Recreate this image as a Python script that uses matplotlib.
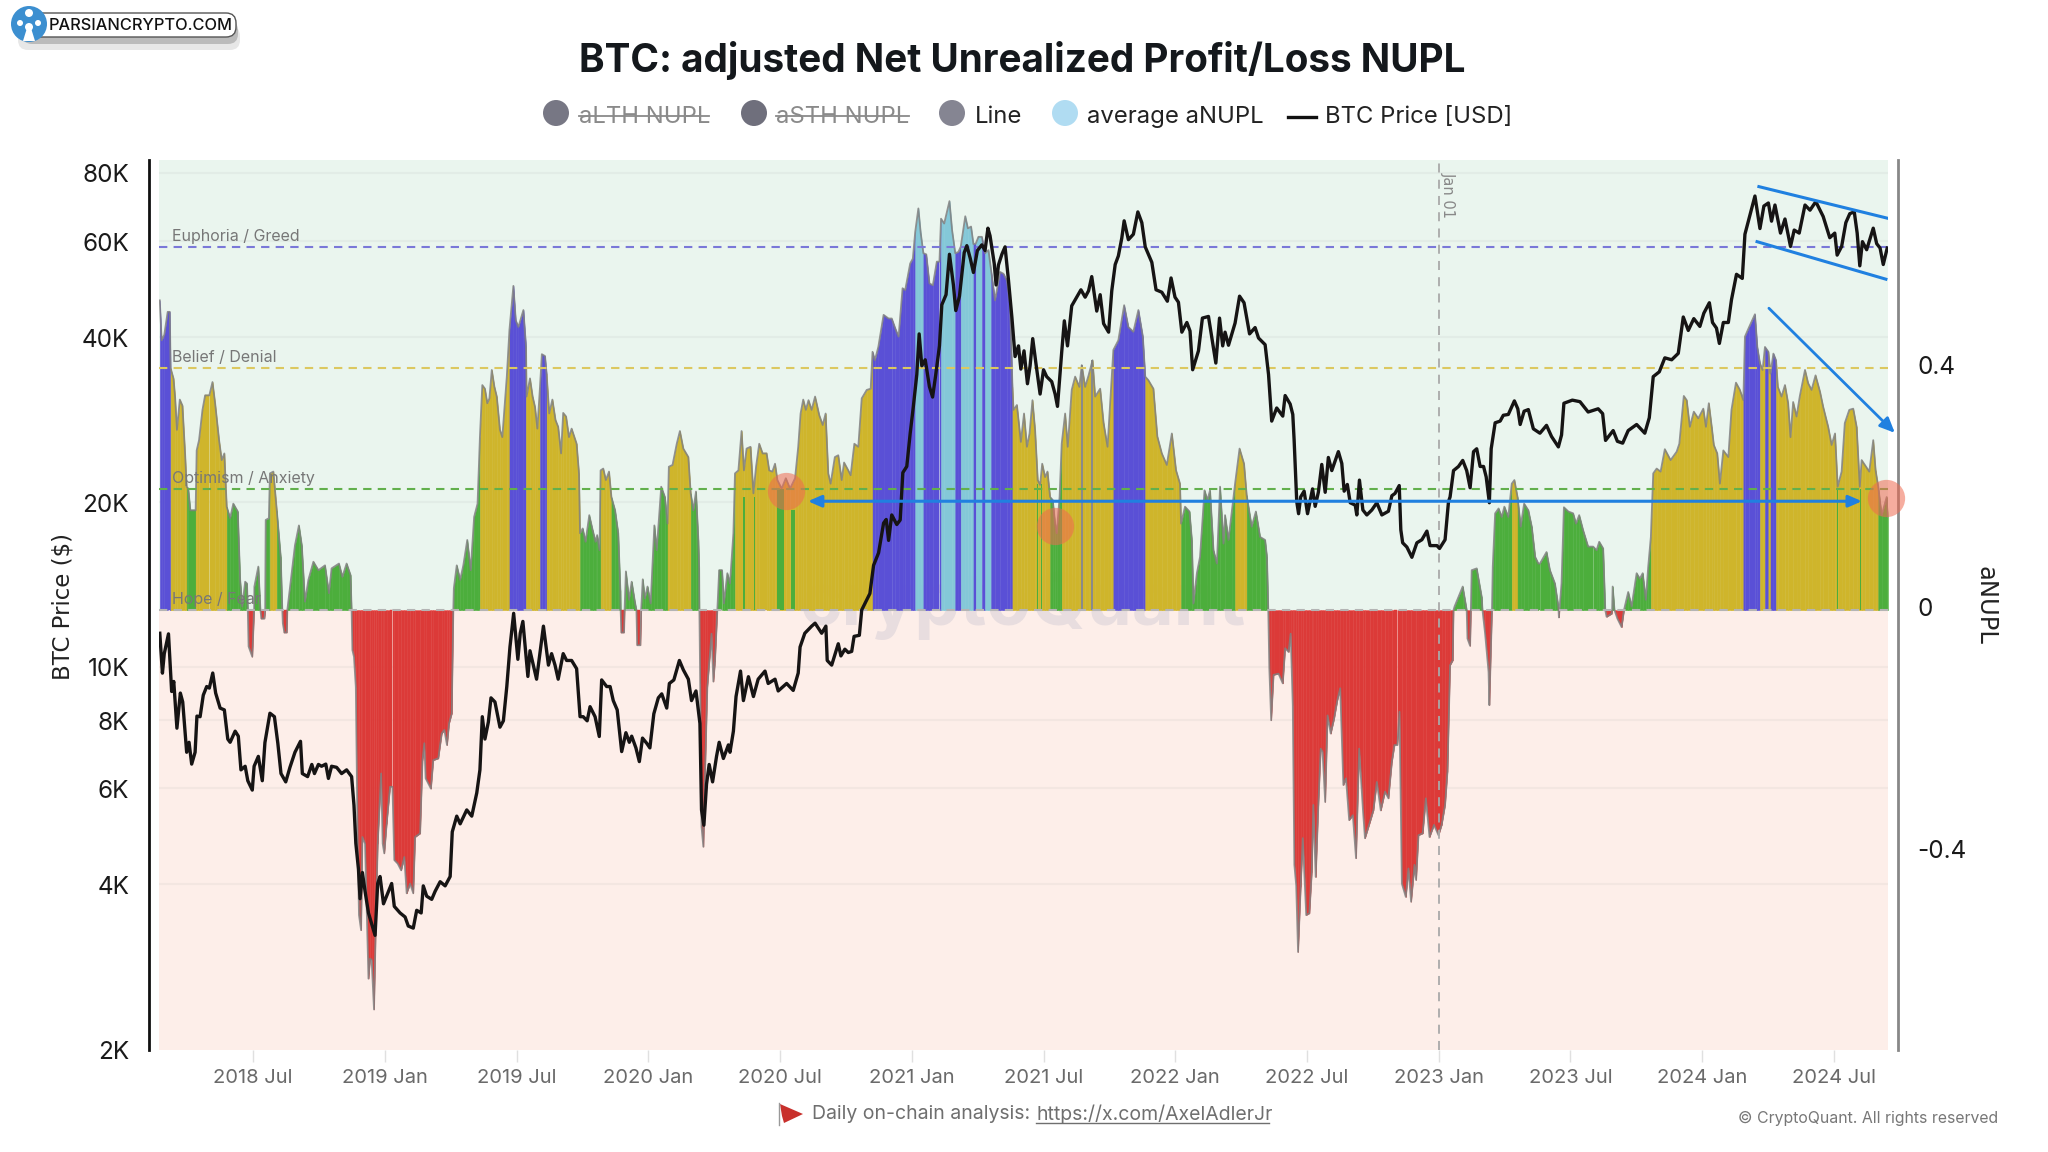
import numpy as np
import matplotlib
matplotlib.use('Agg')
import matplotlib.pyplot as plt
from matplotlib.patches import Circle, FancyBboxPatch, Polygon
from matplotlib.transforms import ScaledTranslation

plt.rcParams['font.family'] = ['Inter', 'DejaVu Sans']

# aNUPL: (decimal year, value)
anupl_pts = [
    (2018.146, .512), (2018.153, .446), (2018.163, .455), (2018.176, .493), (2018.184, .493), (2018.187, .40),
    (2018.198, .383), (2018.204, .353), (2018.211, .298), (2018.222, .348), (2018.232, .338), (2018.242, .259),
    (2018.248, .204), (2018.254, .201), (2018.262, .165), (2018.275, .165), (2018.282, .165), (2018.286, .264),
    (2018.295, .281), (2018.308, .331), (2018.318, .355), (2018.334, .355), (2018.346, .377), (2018.356, .342),
    (2018.371, .281), (2018.381, .248), (2018.391, .259), (2018.400, .171), (2018.413, .152), (2018.425, .176),
    (2018.442, .163), (2018.451, .050), (2018.459, .006), (2018.470, .047), (2018.477, .044), (2018.480, 0),
    (2018.483, -.060), (2018.497, -.077), (2018.504, 0), (2018.505, .039), (2018.520, .072), (2018.528, 0),
    (2018.532, -.014), (2018.543, -.014), (2018.546, 0), (2018.548, .149), (2018.560, .152), (2018.564, .226),
    (2018.577, .229), (2018.590, .165), (2018.605, .088), (2018.611, 0), (2018.613, -.022), (2018.619, -.037),
    (2018.628, -.037), (2018.630, 0), (2018.647, .063), (2018.659, .107), (2018.674, .140), (2018.685, .107),
    (2018.697, .014), (2018.710, .050), (2018.729, .080), (2018.748, .066), (2018.773, .074), (2018.788, .028),
    (2018.798, .069), (2018.826, .077), (2018.839, .055), (2018.855, .077), (2018.870, .058), (2018.874, 0),
    (2018.877, -.066), (2018.883, -.077), (2018.890, -.127), (2018.897, -.386), (2018.902, -.504), (2018.910, -.529),
    (2018.915, -.375), (2018.925, -.386), (2018.938, -.609), (2018.944, -.576), (2018.950, -.578), (2018.959, -.660),
    (2018.967, -.496), (2018.973, -.386), (2018.986, -.270), (2018.992, -.386), (2018.998, -.402), (2019.007, -.353),
    (2019.020, -.292), (2019.029, -.292), (2019.036, -.413), (2019.049, -.419), (2019.062, -.430), (2019.074, -.408),
    (2019.083, -.468), (2019.096, -.452), (2019.108, -.468), (2019.115, -.375), (2019.134, -.369), (2019.143, -.248),
    (2019.150, -.220), (2019.155, -.278), (2019.175, -.295), (2019.184, -.248), (2019.203, -.245), (2019.216, -.204),
    (2019.226, -.198), (2019.236, -.223), (2019.244, -.187), (2019.254, -.171), (2019.260, 0), (2019.262, .036),
    (2019.273, .074), (2019.286, .050), (2019.298, .074), (2019.313, .116), (2019.326, .066), (2019.339, .154),
    (2019.352, .176), (2019.361, .286), (2019.370, .372), (2019.380, .366), (2019.389, .342), (2019.397, .350),
    (2019.406, .397), (2019.416, .369), (2019.425, .353), (2019.437, .298), (2019.446, .286), (2019.463, .386),
    (2019.473, .463), (2019.488, .536), (2019.497, .479), (2019.507, .468), (2019.526, .496), (2019.536, .435),
    (2019.538, .353), (2019.551, .383), (2019.561, .353), (2019.570, .336), (2019.579, .300), (2019.589, .369),
    (2019.596, .423), (2019.608, .420), (2019.614, .391), (2019.624, .325), (2019.636, .348), (2019.648, .314),
    (2019.658, .303), (2019.669, .259), (2019.677, .326), (2019.688, .320), (2019.699, .286), (2019.709, .300),
    (2019.728, .275), (2019.737, .226), (2019.741, .127), (2019.751, .135), (2019.762, .113), (2019.776, .157),
    (2019.789, .132), (2019.800, .113), (2019.806, .124), (2019.815, .099), (2019.819, .231), (2019.829, .234),
    (2019.839, .215), (2019.851, .229), (2019.860, .187), (2019.874, .165), (2019.886, .127), (2019.894, .033),
    (2019.895, 0), (2019.898, -.037), (2019.908, -.037), (2019.910, 0), (2019.915, .064), (2019.927, .017),
    (2019.937, .047), (2019.949, .014), (2019.955, 0), (2019.958, -.058), (2019.970, -.058), (2019.973, 0),
    (2019.979, .051), (2019.987, .019), (2019.997, .039), (2020.009, .011), (2020.023, .140), (2020.032, .099),
    (2020.049, .204), (2020.063, .187), (2020.073, .143), (2020.078, .237), (2020.092, .240), (2020.108, .275),
    (2020.120, .296), (2020.133, .267), (2020.152, .253), (2020.161, .193), (2020.171, .165), (2020.181, .196),
    (2020.190, .116), (2020.193, .07), (2020.194, 0), (2020.197, -.121), (2020.202, -.358), (2020.209, -.391),
    (2020.215, -.275), (2020.224, -.127), (2020.240, -.039), (2020.247, -.118), (2020.253, -.085), (2020.262, 0),
    (2020.269, .066), (2020.280, .066), (2020.287, .011), (2020.300, .061), (2020.310, .044), (2020.323, .127),
    (2020.329, .226), (2020.342, .231), (2020.354, .296), (2020.363, .231), (2020.373, .267), (2020.388, .270),
    (2020.399, .193), (2020.409, .237), (2020.421, .275), (2020.434, .259), (2020.449, .259), (2020.459, .231),
    (2020.471, .229), (2020.481, .242), (2020.490, .215), (2020.506, .201), (2020.522, .218), (2020.538, .201),
    (2020.557, .218), (2020.569, .270), (2020.578, .325), (2020.588, .348), (2020.598, .331), (2020.608, .347),
    (2020.620, .331), (2020.633, .353), (2020.649, .322), (2020.662, .306), (2020.673, .325), (2020.683, .226),
    (2020.692, .209), (2020.708, .253), (2020.721, .256), (2020.734, .215), (2020.743, .244), (2020.759, .231),
    (2020.768, .223), (2020.782, .275), (2020.797, .270), (2020.810, .350), (2020.829, .364), (2020.844, .366),
    (2020.851, .427), (2020.860, .413), (2020.873, .435), (2020.893, .488), (2020.912, .482), (2020.924, .482),
    (2020.937, .466), (2020.950, .452), (2020.965, .532), (2020.975, .529), (2020.994, .573), (2021.004, .581),
    (2021.013, .625), (2021.025, .664), (2021.034, .623), (2021.044, .590), (2021.055, .588), (2021.067, .540),
    (2021.080, .537), (2021.095, .576), (2021.105, .576), (2021.111, .647), (2021.123, .639), (2021.143, .676),
    (2021.153, .628), (2021.165, .590), (2021.177, .592), (2021.186, .601), (2021.203, .651), (2021.213, .631),
    (2021.225, .634), (2021.234, .605), (2021.243, .606), (2021.253, .617), (2021.266, .617), (2021.278, .590),
    (2021.291, .595), (2021.301, .562), (2021.316, .512), (2021.335, .559), (2021.348, .556), (2021.361, .545),
    (2021.373, .507), (2021.382, .369), (2021.386, .331), (2021.399, .339), (2021.414, .278), (2021.426, .325),
    (2021.437, .270), (2021.447, .292), (2021.458, .347), (2021.468, .298), (2021.478, .215), (2021.487, .207),
    (2021.495, .242), (2021.506, .220), (2021.515, .229), (2021.525, .187), (2021.535, .182), (2021.544, .143),
    (2021.550, .127), (2021.561, .187), (2021.569, .275), (2021.582, .325), (2021.592, .270), (2021.607, .364),
    (2021.620, .386), (2021.636, .369), (2021.645, .405), (2021.658, .369), (2021.671, .388), (2021.686, .413),
    (2021.696, .353), (2021.715, .366), (2021.728, .309), (2021.743, .270), (2021.755, .358), (2021.765, .430),
    (2021.784, .446), (2021.806, .504), (2021.822, .468), (2021.841, .460), (2021.860, .496), (2021.877, .452),
    (2021.886, .386), (2021.898, .380), (2021.917, .366), (2021.932, .287), (2021.949, .259), (2021.968, .240),
    (2021.987, .292), (2022.003, .231), (2022.018, .209), (2022.022, .143), (2022.037, .171), (2022.054, .163),
    (2022.063, .116), (2022.069, .011), (2022.082, .061), (2022.094, .088), (2022.111, .198), (2022.122, .182),
    (2022.132, .198), (2022.145, .099), (2022.158, .077), (2022.170, .204), (2022.183, .110), (2022.189, .157),
    (2022.202, .116), (2022.214, .160), (2022.227, .209), (2022.244, .267), (2022.261, .242), (2022.271, .190),
    (2022.290, .138), (2022.306, .163), (2022.322, .121), (2022.341, .116), (2022.348, .088), (2022.353, 0),
    (2022.357, -.096), (2022.364, -.182), (2022.373, -.107), (2022.392, -.105), (2022.408, -.121), (2022.417, -.063),
    (2022.430, -.069), (2022.438, -.039), (2022.446, -.157), (2022.452, -.421), (2022.459, -.455), (2022.466, -.565),
    (2022.476, -.457), (2022.484, -.377), (2022.497, -.504), (2022.509, -.501), (2022.518, -.433), (2022.524, -.322),
    (2022.533, -.441), (2022.543, -.322), (2022.552, -.229), (2022.559, -.234), (2022.569, -.317), (2022.578, -.174),
    (2022.590, -.204), (2022.603, -.179), (2022.615, -.149), (2022.626, -.129), (2022.638, -.289), (2022.648, -.278),
    (2022.660, -.347), (2022.674, -.339), (2022.686, -.410), (2022.698, -.229), (2022.712, -.328), (2022.720, -.377),
    (2022.739, -.350), (2022.752, -.331), (2022.765, -.284), (2022.780, -.331), (2022.796, -.300), (2022.809, -.311),
    (2022.822, -.251), (2022.832, -.223), (2022.843, -.223), (2022.851, -.168), (2022.860, -.452), (2022.875, -.474),
    (2022.885, -.427), (2022.895, -.482), (2022.908, -.421), (2022.914, -.446), (2022.923, -.372), (2022.939, -.369),
    (2022.951, -.311), (2022.965, -.375), (2022.982, -.355), (2022.999, -.372), (2023.011, -.355), (2023.024, -.322),
    (2023.033, -.267), (2023.043, -.091), (2023.053, -.083), (2023.056, 0), (2023.060, .006), (2023.075, .022),
    (2023.091, .039), (2023.104, .006), (2023.106, 0), (2023.109, -.047), (2023.119, -.059), (2023.122, 0),
    (2023.125, .066), (2023.144, .069), (2023.163, .022), (2023.166, 0), (2023.176, -.039), (2023.189, -.102),
    (2023.192, -.157), (2023.199, -.047), (2023.202, 0), (2023.205, .072), (2023.214, .160), (2023.227, .168),
    (2023.239, .154), (2023.249, .171), (2023.264, .154), (2023.277, .209), (2023.287, .215), (2023.299, .187),
    (2023.311, .138), (2023.324, .176), (2023.340, .165), (2023.353, .138), (2023.366, .088), (2023.378, .077),
    (2023.384, .077), (2023.409, .096), (2023.422, .066), (2023.441, .044), (2023.454, .006), (2023.456, -.012),
    (2023.458, 0), (2023.466, .044), (2023.475, .170), (2023.492, .163), (2023.510, .160), (2023.521, .143),
    (2023.533, .157), (2023.548, .132), (2023.567, .105), (2023.586, .105), (2023.599, .099), (2023.609, .113),
    (2023.624, .102), (2023.632, 0), (2023.637, -.011), (2023.656, -.006), (2023.658, 0), (2023.660, .039),
    (2023.667, 0), (2023.678, -.014), (2023.694, -.028), (2023.703, 0), (2023.719, .030), (2023.732, .006),
    (2023.751, .061), (2023.763, .052), (2023.774, .061), (2023.786, .017), (2023.795, .072), (2023.805, .121),
    (2023.814, .226), (2023.827, .234), (2023.842, .229), (2023.858, .266), (2023.880, .248), (2023.903, .262),
    (2023.913, .275), (2023.930, .354), (2023.941, .347), (2023.953, .303), (2023.968, .328), (2023.985, .317),
    (2024.004, .333), (2024.014, .303), (2024.025, .342), (2024.036, .303), (2024.044, .273), (2024.057, .259),
    (2024.067, .209), (2024.080, .264), (2024.099, .253), (2024.111, .331), (2024.128, .376), (2024.143, .364),
    (2024.156, .347), (2024.162, .452), (2024.178, .468), (2024.200, .489), (2024.209, .435), (2024.219, .408),
    (2024.229, .397), (2024.238, .435), (2024.251, .427), (2024.259, .391), (2024.270, .424), (2024.280, .413),
    (2024.287, .369), (2024.301, .353), (2024.314, .372), (2024.326, .342), (2024.335, .286), (2024.345, .344),
    (2024.358, .320), (2024.370, .353), (2024.390, .397), (2024.402, .375), (2024.415, .364), (2024.430, .388),
    (2024.447, .361), (2024.459, .336), (2024.478, .303), (2024.491, .273), (2024.504, .292), (2024.514, .204),
    (2024.529, .229), (2024.541, .309), (2024.558, .331), (2024.573, .333), (2024.586, .303), (2024.598, .204),
    (2024.605, .248), (2024.617, .240), (2024.634, .229), (2024.649, .281), (2024.658, .231), (2024.668, .204),
    (2024.681, .157), (2024.700, .187), (2024.705, .154),
]

# where the bar colour changes
zone_edges = [2018.14, 2018.187, 2018.248, 2018.282, 2018.400, 2018.562, 2018.586, 2019.358, 2019.470, 2019.536,
              2019.592, 2019.612, 2019.739, 2019.817, 2019.858, 2020.075, 2020.158, 2020.326, 2020.851, 2021.009,
              2021.041, 2021.110, 2021.161, 2021.188, 2021.234, 2021.243, 2021.270, 2021.279, 2021.301, 2021.382,
              2021.521, 2021.567, 2021.767, 2021.886, 2022.022, 2022.227, 2022.271, 2023.272, 2023.297, 2023.808,
              2024.156, 2024.216, 2024.234, 2024.254, 2024.263, 2024.282, 2024.672]
zone_names = ['belief', 'optimism', 'hope', 'optimism', 'hope', 'optimism', 'hope', 'optimism', 'belief', 'optimism',
              'belief', 'optimism', 'hope', 'optimism', 'hope', 'optimism', 'hope', 'optimism', 'belief', 'euphoria',
              'belief', 'euphoria', 'belief', 'euphoria', 'belief', 'euphoria', 'belief', 'euphoria', 'belief', 'optimism',
              'hope', 'optimism', 'belief', 'optimism', 'hope', 'optimism', 'hope', 'optimism', 'hope', 'optimism',
              'belief', 'optimism', 'belief', 'optimism', 'belief', 'optimism', 'hope']

# narrow off-colour bars inside the runs: start, end, top, zone
stripe_start = [2020.358, 2020.402, 2020.490, 2020.540, 2021.475, 2021.490, 2021.505, 2021.641, 2021.682, 2024.512, 2024.598]
stripe_end = [2020.368, 2020.405, 2020.516, 2020.558, 2021.480, 2021.495, 2021.507, 2021.649, 2021.687, 2024.516, 2024.603]
stripe_top = [.187, .187, .201, .165, .209, .209, .209, .405, .413, .200, .200]
stripe_zone = ['hope', 'hope', 'hope', 'hope', 'hope', 'hope', 'hope', 'gray', 'gray', 'hope', 'hope']

# BTC price: (decimal year, USD)
price_pts = [
    (2018.146, 11550), (2018.156, 9765), (2018.163, 10600), (2018.179, 11520), (2018.191, 9040), (2018.199, 9430),
    (2018.211, 7746), (2018.224, 8980), (2018.233, 8650), (2018.248, 7000), (2018.257, 7300), (2018.267, 6660),
    (2018.280, 7000), (2018.287, 8150), (2018.299, 8130), (2018.311, 8900), (2018.324, 9230), (2018.334, 9170),
    (2018.347, 9770), (2018.358, 8980), (2018.375, 8430), (2018.391, 8366), (2018.404, 7400), (2018.413, 7300),
    (2018.432, 7650), (2018.444, 7490), (2018.454, 6500), (2018.470, 6600), (2018.480, 6210), (2018.497, 5970),
    (2018.504, 6600), (2018.520, 6880), (2018.535, 6210), (2018.545, 7290), (2018.564, 8250), (2018.581, 8130),
    (2018.594, 7270), (2018.606, 6400), (2018.624, 6180), (2018.640, 6570), (2018.659, 7000), (2018.680, 7330),
    (2018.687, 6400), (2018.707, 6318), (2018.723, 6650), (2018.733, 6400), (2018.748, 6650), (2018.760, 6600),
    (2018.776, 6660), (2018.786, 6270), (2018.798, 6600), (2018.817, 6570), (2018.836, 6400), (2018.855, 6500),
    (2018.874, 6318), (2018.883, 5600), (2018.890, 4774), (2018.900, 4280), (2018.906, 3780), (2018.915, 4220),
    (2018.925, 3900), (2018.938, 3560), (2018.957, 3310), (2018.963, 3240), (2018.973, 4030), (2018.982, 4150),
    (2018.995, 3700), (2019.014, 3900), (2019.026, 4030), (2019.036, 3660), (2019.058, 3560), (2019.077, 3500),
    (2019.089, 3370), (2019.108, 3340), (2019.121, 3600), (2019.138, 3560), (2019.146, 3990), (2019.159, 3820),
    (2019.178, 3770), (2019.191, 3900), (2019.210, 4060), (2019.229, 3990), (2019.248, 4150), (2019.256, 5008),
    (2019.273, 5350), (2019.286, 5180), (2019.311, 5492), (2019.330, 5350), (2019.349, 5900), (2019.361, 6500),
    (2019.370, 8130), (2019.380, 7400), (2019.393, 7950), (2019.403, 8800), (2019.418, 8650), (2019.437, 7780),
    (2019.450, 7990), (2019.463, 9230), (2019.475, 10900), (2019.489, 12560), (2019.505, 10350), (2019.514, 11550),
    (2019.524, 12140), (2019.543, 9630), (2019.551, 10730), (2019.576, 9520), (2019.602, 11900), (2019.621, 10100),
    (2019.633, 10600), (2019.646, 10100), (2019.658, 9520), (2019.677, 10600), (2019.690, 10300), (2019.709, 10300),
    (2019.728, 9950), (2019.741, 8130), (2019.753, 8130), (2019.768, 7990), (2019.779, 8480), (2019.798, 8130),
    (2019.814, 7480), (2019.823, 9490), (2019.842, 9230), (2019.855, 9230), (2019.867, 8700), (2019.882, 8366),
    (2019.899, 7020), (2019.915, 7600), (2019.928, 7300), (2019.937, 7490), (2019.953, 7130), (2019.966, 6730),
    (2019.978, 7430), (2019.994, 7270), (2020.006, 7130), (2020.021, 8230), (2020.038, 8800), (2020.051, 8950),
    (2020.070, 8430), (2020.080, 9350), (2020.097, 9490), (2020.118, 10300), (2020.133, 9900), (2020.152, 9520),
    (2020.164, 8700), (2020.181, 9060), (2020.196, 7900), (2020.202, 5492), (2020.211, 5150), (2020.221, 6120),
    (2020.231, 6650), (2020.244, 6180), (2020.259, 6880), (2020.269, 7300), (2020.285, 6820), (2020.304, 7220),
    (2020.310, 7000), (2020.323, 7650), (2020.333, 8850), (2020.350, 9850), (2020.361, 8700), (2020.380, 9620),
    (2020.399, 8850), (2020.417, 9520), (2020.443, 9850), (2020.455, 9350), (2020.481, 9520), (2020.493, 9060),
    (2020.525, 9350), (2020.550, 9080), (2020.569, 9770), (2020.576, 10900), (2020.594, 11550), (2020.620, 11900),
    (2020.633, 12050), (2020.658, 11550), (2020.674, 11900), (2020.679, 10300), (2020.696, 10100), (2020.721, 11050),
    (2020.731, 10500), (2020.746, 10800), (2020.759, 10650), (2020.772, 10700), (2020.781, 11400), (2020.801, 11450),
    (2020.810, 12740), (2020.841, 13650), (2020.855, 15370), (2020.874, 16200), (2020.893, 18360), (2020.903, 18640),
    (2020.912, 17070), (2020.924, 19000), (2020.943, 18250), (2020.956, 18600), (2020.966, 22700), (2020.981, 23300),
    (2020.994, 26800), (2021.006, 30000), (2021.019, 34300), (2021.028, 40700), (2021.038, 35600), (2021.051, 36500),
    (2021.067, 32600), (2021.079, 31200), (2021.091, 34300), (2021.105, 38700), (2021.114, 46000), (2021.130, 48000),
    (2021.143, 56900), (2021.158, 50000), (2021.167, 44900), (2021.181, 47700), (2021.199, 57300), (2021.209, 59000),
    (2021.222, 55900), (2021.234, 52700), (2021.249, 57800), (2021.266, 59200), (2021.278, 57800), (2021.289, 63500),
    (2021.297, 61500), (2021.313, 54700), (2021.320, 50000), (2021.329, 54400), (2021.342, 56900), (2021.354, 58700),
    (2021.367, 51000), (2021.380, 43600), (2021.392, 37000), (2021.405, 38700), (2021.414, 35100), (2021.426, 37900),
    (2021.439, 33000), (2021.449, 35600), (2021.459, 39900), (2021.471, 36000), (2021.487, 31600), (2021.500, 35000),
    (2021.512, 34000), (2021.531, 33300), (2021.544, 31600), (2021.553, 30000), (2021.569, 37700), (2021.579, 43000),
    (2021.591, 38700), (2021.607, 45800), (2021.626, 47500), (2021.642, 49000), (2021.658, 47500), (2021.671, 48800),
    (2021.683, 51800), (2021.702, 44800), (2021.715, 48000), (2021.728, 42500), (2021.747, 41000), (2021.759, 48800),
    (2021.772, 54500), (2021.784, 56500), (2021.797, 60900), (2021.806, 65500), (2021.822, 60500), (2021.841, 61900),
    (2021.858, 68000), (2021.873, 65000), (2021.886, 58700), (2021.911, 55000), (2021.927, 49000), (2021.949, 48500),
    (2021.970, 46700), (2021.984, 51500), (2021.999, 47500), (2022.012, 46500), (2022.025, 41000), (2022.044, 42700),
    (2022.056, 41200), (2022.066, 35000), (2022.088, 37900), (2022.103, 43500), (2022.126, 43800), (2022.154, 36000),
    (2022.168, 43500), (2022.180, 38700), (2022.189, 41000), (2022.202, 38800), (2022.227, 42600), (2022.244, 47700),
    (2022.261, 46400), (2022.282, 40700), (2022.303, 41800), (2022.316, 40000), (2022.341, 38900), (2022.354, 34300),
    (2022.366, 28200), (2022.385, 29800), (2022.408, 28800), (2022.417, 31400), (2022.436, 30300), (2022.446, 29000),
    (2022.451, 26100), (2022.461, 20100), (2022.468, 19100), (2022.476, 20500), (2022.489, 21000), (2022.502, 19100),
    (2022.521, 21200), (2022.531, 19700), (2022.543, 20900), (2022.556, 23500), (2022.569, 20900), (2022.581, 24200),
    (2022.594, 22900), (2022.619, 24800), (2022.632, 23600), (2022.641, 21000), (2022.653, 21600), (2022.664, 20000),
    (2022.683, 19800), (2022.689, 19000), (2022.699, 22000), (2022.712, 19400), (2022.727, 19000), (2022.746, 19400),
    (2022.765, 20000), (2022.784, 19000), (2022.809, 19300), (2022.822, 20600), (2022.834, 20800), (2022.850, 21500),
    (2022.856, 17850), (2022.863, 16900), (2022.879, 16600), (2022.898, 15900), (2022.917, 16900), (2022.936, 17120),
    (2022.955, 17750), (2022.967, 16700), (2022.993, 16700), (2023.003, 16500), (2023.024, 17120), (2023.037, 20100),
    (2023.043, 20500), (2023.056, 22900), (2023.075, 23300), (2023.091, 23900), (2023.106, 22900), (2023.119, 21300),
    (2023.132, 24800), (2023.144, 25100), (2023.157, 23300), (2023.170, 23300), (2023.180, 22300), (2023.192, 20000),
    (2023.199, 25100), (2023.214, 28000), (2023.233, 28200), (2023.245, 28900), (2023.264, 29000), (2023.287, 30700),
    (2023.300, 29700), (2023.309, 27800), (2023.324, 29400), (2023.340, 29600), (2023.359, 27300), (2023.384, 26800),
    (2023.409, 27700), (2023.428, 26430), (2023.454, 25300), (2023.466, 26600), (2023.475, 30400), (2023.507, 30800),
    (2023.536, 30600), (2023.567, 29300), (2023.605, 29700), (2023.622, 29100), (2023.633, 26000), (2023.662, 27100),
    (2023.678, 25900), (2023.698, 25700), (2023.719, 27100), (2023.751, 27800), (2023.782, 26800), (2023.799, 28600),
    (2023.814, 34000), (2023.837, 34700), (2023.858, 36800), (2023.884, 36500), (2023.909, 37500), (2023.928, 43700),
    (2023.947, 41300), (2023.968, 43400), (2023.991, 42000), (2024.006, 44400), (2024.027, 46400), (2024.039, 42700),
    (2024.054, 41700), (2024.065, 39100), (2024.080, 42700), (2024.099, 42700), (2024.111, 47000), (2024.130, 52300),
    (2024.152, 51400), (2024.162, 61900), (2024.175, 65400), (2024.200, 72700), (2024.219, 63400), (2024.234, 69700),
    (2024.251, 70600), (2024.263, 65400), (2024.276, 70000), (2024.297, 62200), (2024.314, 66000), (2024.335, 58800),
    (2024.349, 63000), (2024.368, 62200), (2024.390, 70000), (2024.409, 68500), (2024.431, 71000), (2024.459, 66700),
    (2024.484, 61000), (2024.503, 62200), (2024.512, 56700), (2024.529, 58800), (2024.545, 65000), (2024.560, 67500),
    (2024.577, 68000), (2024.588, 62200), (2024.598, 54200), (2024.608, 60000), (2024.624, 58000), (2024.649, 63500),
    (2024.662, 59500), (2024.675, 58400), (2024.687, 54500), (2024.702, 58400),
]

xtick_years = [2018.5, 2019.0, 2019.5, 2020.0, 2020.5, 2021.0, 2021.5, 2022.0, 2022.5, 2023.0, 2023.5, 2024.0, 2024.5]
xtick_labels = ['2018 Jul', '2019 Jan', '2019 Jul', '2020 Jan', '2020 Jul', '2021 Jan', '2021 Jul',
                '2022 Jan', '2022 Jul', '2023 Jan', '2023 Jul', '2024 Jan', '2024 Jul']
price_ticks = [2000, 4000, 6000, 8000, 10000, 20000, 40000, 60000, 80000]
price_labels = ['2K', '4K', '6K', '8K', '10K', '20K', '40K', '60K', '80K']
level_values = [0.6, 0.4, 0.2, 0.0]
level_names = ['Euphoria / Greed', 'Belief / Denial', 'Optimism / Anxiety', 'Hope / Fear']
level_colors = ['#7a78d8', '#dcc860', '#62b04c', '#b4b4b4']

# analyst's drawings, in chart values
channel_x = [[2024.215, 2024.701], [2024.208, 2024.697]]
channel_y = [[.700, .648], [.609, .547]]
circle_x = [2020.523, 2021.544, 2024.697]
circle_y = [.197, .139, .185]

zone_colors = {'hope': '#4CAE3C', 'optimism': '#CFB52B', 'belief': '#5A50D6', 'euphoria': '#84C8D8',
               'gray': '#8a8a8a'}
RED = '#DC3A38'
BLUE = '#2080E0'

W, H = 2048, 1152
fig = plt.figure(figsize=(W / 100, H / 100), dpi=100, facecolor='white')
rect = [159 / W, (H - 1050) / H, 1729 / W, 890 / H]

ax_back = fig.add_axes(rect)
ax_back.set_zorder(1)
ax_back.set_facecolor('none')
ax_bars = ax_back.twinx()
ax_bars.set_zorder(2)
ax_bars.patch.set_visible(False)
ax_line = ax_back.twinx()
ax_line.set_zorder(3)
ax_line.patch.set_visible(False)
ax_over = ax_back.twinx()
ax_over.set_zorder(4)
ax_over.patch.set_visible(False)

XMIN, XMAX = 2018.143, 2024.705
ax_back.set_xlim(XMIN, XMAX)
ax_back.set_yscale('log')
ax_back.set_ylim(2000, 84600)
ax_line.set_yscale('log')
ax_line.set_ylim(2000, 84600)
ax_bars.set_ylim(-0.727, 0.744)
ax_over.set_ylim(-0.727, 0.744)

# background bands + grid, behind everything
ax_bars.axhspan(0, 0.744, color='#EAF5EE', lw=0, zorder=0)
ax_bars.axhspan(-0.727, 0, color='#FDEEE9', lw=0, zorder=0)
for v in price_ticks[1:]:
    ax_bars.plot([XMIN, XMAX], [np.log10(v / 20000) * 547 / 605 + 108 / 605] * 2,
                 color='#88888814', lw=1.5, zorder=0.5)

ax_bars.text(1022 / W, 1 - 625 / H, 'cryptoQuant', transform=fig.transFigure, ha='center', va='baseline',
             fontsize=52, fontweight='bold', color='#e8dddf', zorder=1)

# aNUPL bars
yrs = np.array([p[0] for p in anupl_pts])
vals = np.array([p[1] for p in anupl_pts])
for i in range(len(yrs) - 1):
    mid = (yrs[i] + yrs[i + 1]) / 2
    if vals[i] + vals[i + 1] < 0:
        c = RED
    else:
        c = zone_colors[zone_names[np.searchsorted(zone_edges, mid) - 1]]
    ax_bars.fill_between(yrs[i:i + 2], vals[i:i + 2], 0, color=c, lw=0.3, zorder=2)
for s, e, t, z in zip(stripe_start, stripe_end, stripe_top, stripe_zone):
    ax_bars.bar(s, t, width=e - s, align='edge', color=zone_colors[z], lw=0, zorder=2.2)
ax_bars.plot(yrs, vals, color='#808080', lw=1.3, alpha=0.85, zorder=2.5)

# level lines
for v, name, c in zip(level_values, level_names, level_colors):
    ax_bars.plot([XMIN, XMAX], [v, v], color=c, lw=1.5, ls=(0, (4, 3)), zorder=3)
    ax_bars.text(2018.193, v + 0.005, name, color='#777777', fontsize=11.5, va='bottom', zorder=3.5)

# Jan 01 marker
ax_bars.plot([2023.0, 2023.0], [-0.727, 0.744], color='#a9a9a9', lw=1.3, ls=(0, (5, 4)), zorder=3)
ax_bars.text(2023.007, 0.724, 'Jan 01', rotation=270, color='#888888', fontsize=10.5, family='DejaVu Sans',
             ha='left', va='top', zorder=3.5)

# price
px = [p[0] for p in price_pts]
py = [p[1] for p in price_pts]
ax_line.plot(px, py, color='#161414', lw=2.4, solid_joinstyle='round', zorder=4)
ax_line.set_yticks([])
ax_line.minorticks_off()

# hand-drawn marks on the chart
ax_over.set_yticks([])
ax_over.scatter(circle_x, circle_y, s=720, color='#F06A50', alpha=0.55, lw=0, clip_on=False)
for xs, ys in zip(channel_x, channel_y):
    ax_over.plot(xs, ys, color=BLUE, lw=2.2)
ax_over.annotate('', xy=(2024.731, .293), xytext=(2024.253, .499), annotation_clip=False,
                 arrowprops=dict(arrowstyle='-|>,head_length=0.9,head_width=0.4', color=BLUE, lw=2, shrinkA=0, shrinkB=0))
ax_over.annotate('', xy=(2024.606, .180), xytext=(2020.606, .180),
                 arrowprops=dict(arrowstyle='<|-|>,head_length=0.8,head_width=0.35', color=BLUE, lw=2.2, shrinkA=0, shrinkB=0))

# axes dressing
for a in (ax_back, ax_bars, ax_line, ax_over):
    for s in a.spines.values():
        s.set_visible(False)
ax_back.spines['left'].set_visible(True)
ax_back.spines['left'].set_position(('outward', 7.5))
ax_back.spines['left'].set_color('#111111')
ax_back.spines['left'].set_linewidth(2)
ax_back.yaxis.set_ticks_position('left')
ax_back.set_yticks(price_ticks)
ax_back.set_yticklabels(price_labels)
ax_back.minorticks_off()
ax_back.tick_params(axis='y', length=0, pad=14, labelsize=17.5, labelcolor='#1a1a1a')
ax_back.set_xticks(xtick_years)
ax_back.set_xticklabels(xtick_labels)
ax_back.tick_params(axis='x', length=8.5, width=1, color='#e0e0e0', pad=5, labelsize=14.5, labelcolor='#6a6a6a')

ax_bars.spines['right'].set_visible(True)
ax_bars.spines['right'].set_position(('outward', 7))
ax_bars.spines['right'].set_color('#888888')
ax_bars.spines['right'].set_linewidth(2)
ax_bars.yaxis.set_ticks_position('right')
ax_bars.set_yticks([-0.4, 0, 0.4])
ax_bars.set_yticklabels(['-0.4', '0', '0.4'])
ax_bars.tick_params(axis='y', length=0, pad=14, labelsize=17.5, labelcolor='#1a1a1a')
for lab in ax_bars.get_yticklabels():
    lab.set_transform(lab.get_transform() + ScaledTranslation(0, 2 / 72, fig.dpi_scale_trans))

# overlay in pixel coordinates for title, legend, logo, footer
ov = fig.add_axes([0, 0, 1, 1], zorder=10)
ov.set_xlim(0, W)
ov.set_ylim(H, 0)
ov.axis('off')

ov.text(1022, 60, 'BTC: adjusted Net Unrealized Profit/Loss NUPL', ha='center', va='center',
        fontsize=27.9, fontweight='bold', color='#14181c')

legend_dots = [556, 754, 952, 1065]
legend_dot_colors = ['#777784', '#6f6f7c', '#858592', '#B0DCF2']
legend_text_x = [579, 776, 975, 1087]
legend_names = ['aLTH NUPL', 'aSTH NUPL', 'Line', 'average aNUPL']
legend_text_colors = ['#8a8a8a', '#8a8a8a', '#222222', '#222222']
for dx, dc, tx, nm, tc in zip(legend_dots, legend_dot_colors, legend_text_x, legend_names, legend_text_colors):
    ov.add_patch(Circle((dx, 113), 13, color=dc, lw=0))
    ov.text(tx, 117, nm, color=tc, fontsize=17.2, va='center')
ov.plot([579, 709], [116, 116], color='#8a8a8a', lw=1.3)
ov.plot([776, 909], [116, 116], color='#8a8a8a', lw=1.3)
ov.plot([1288, 1316], [117, 117], color='#111111', lw=2.4)
ov.text(1325, 117, 'BTC Price [USD]', color='#222222', fontsize=17.2, va='center')

ov.text(63, 607, 'BTC Price ($)', rotation=90, ha='center', va='center', fontsize=16.5,
        family='DejaVu Sans', color='#222222')
ov.text(1986, 605, 'aNUPL', rotation=270, ha='center', va='center', fontsize=17.5,
        family='DejaVu Sans', color='#222222')

# logo
ov.add_patch(FancyBboxPatch((18, 26), 222, 24, boxstyle='round,pad=0,rounding_size=10', fc='#00000018', ec='none'))
ov.add_patch(FancyBboxPatch((22, 20), 216, 24, boxstyle='round,pad=0,rounding_size=10', fc='#00000030', ec='none'))
ov.add_patch(FancyBboxPatch((26, 13), 210, 24, boxstyle='round,pad=0,rounding_size=10', fc='white', ec='#555555', lw=1))
ov.add_patch(Circle((29, 24), 18, fc='#3C8FD0', ec='none'))
for cx, cy, r in [(29, 13, 4), (20, 23, 3), (38, 23, 3), (29, 27, 4)]:
    ov.add_patch(Circle((cx, cy), r, fc='white', ec='none'))
ov.add_patch(Polygon([[23, 41], [35, 41], [31, 28], [27, 28]], fc='white', ec='none'))
ov.text(49, 25, 'PARSIANCRYPTO.COM', fontsize=11.8, fontweight='medium', color='#111111', va='center')

# footer
ov.add_patch(Polygon([[780, 1104], [803, 1114], [784, 1123], [782, 1116]], fc='#C8302C', ec='none'))
ov.plot([779, 779], [1103, 1125], color='#999999', lw=1)
ov.text(812, 1114, 'Daily on-chain analysis:', color='#6f6f6f', fontsize=14, va='center')
ov.text(1036, 1114, 'https://x.com/AxelAdlerJr', color='#6f6f6f', fontsize=14, va='center')
ov.plot([1036, 1269], [1123, 1123], color='#6f6f6f', lw=1)
ov.text(1998, 1118, '© CryptoQuant. All rights reserved', color='#777777', fontsize=11.4, ha='right', va='center')

fig.savefig('out.png', dpi=100)
